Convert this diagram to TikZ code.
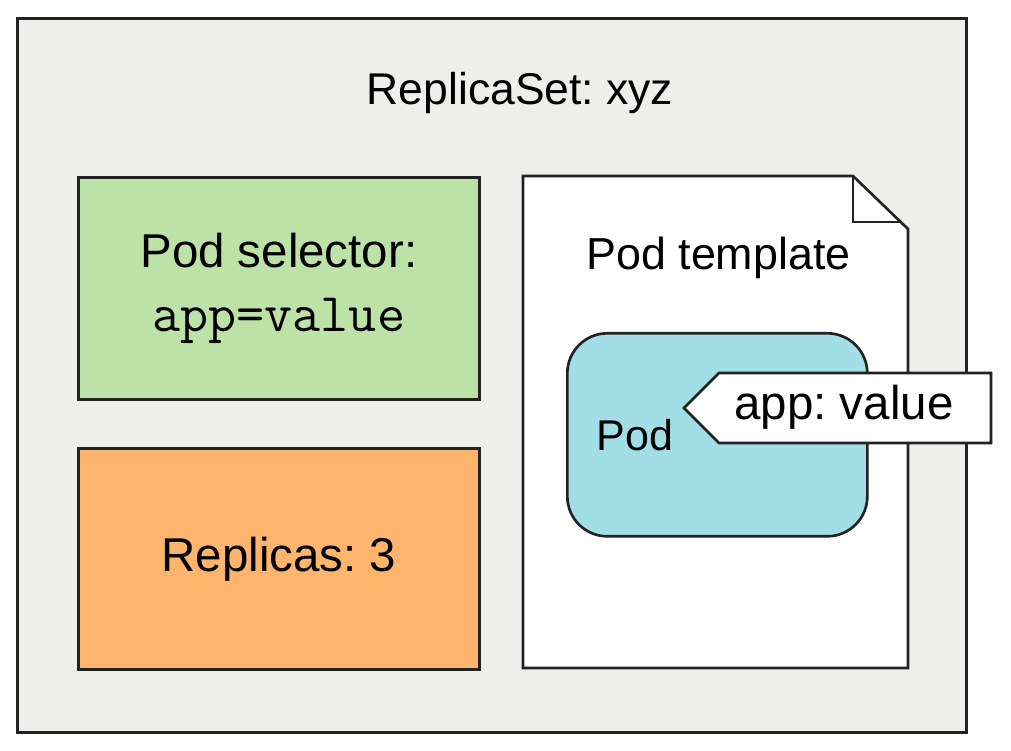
\documentclass[tikz,border=0pt]{standalone}
\usepackage{fontspec}
\setmainfont{Liberation Sans}
\usetikzlibrary{positioning,calc}

\definecolor{rsgray}{RGB}{238,238,236}
\definecolor{selgreen}{RGB}{188,226,168}
\definecolor{reporange}{RGB}{253,180,108}
\definecolor{podblue}{RGB}{162,222,230}
\definecolor{edge}{RGB}{34,34,34}

\frenchspacing
\tikzset{
   box/.style={draw=edge, line width=1.5pt, inner sep=0pt},
   txt/.style={font=\fontsize{27}{36.5}\selectfont, align=center, text=black},
}

\begin{document}
\begin{tikzpicture}
      \useasboundingbox (0,0) rectangle (20.22,-15.02);

      % replicaset frame
      \node[box, fill=rsgray, anchor=north west,
            minimum width=18.98cm, minimum height=14.28cm] (rs) at (0.32,-0.34) {};
      \node[txt, anchor=base, font=\fontsize{25.3}{30}\selectfont] (rsname) at (10.4,-2.1) {ReplicaSet: xyz};

      % selector and replicas
      \node[box, txt, fill=selgreen, anchor=north west,
            minimum width=8.02cm, minimum height=4.44cm] (sel) at (1.54,-3.52)
            {Pod selector:\\{\fontsize{31}{36}\selectfont\ttfamily app=value}};
      \node[box, txt, fill=reporange, below=0.93cm of sel,
            minimum width=8.02cm, minimum height=4.42cm] (rep) {Replicas: 3};

      % pod template sheet
      \coordinate (tnw) at (10.46,-3.52);
      \coordinate (tfold) at (17.06,-3.52);
      \coordinate (tne) at (18.16,-4.58);
      \coordinate (tse) at (18.16,-13.36);
      \coordinate (tsw) at (10.46,-13.36);
      \draw[box, fill=white] (tnw) -- (tfold) -- (tne) -- (tse) -- (tsw) -- cycle;
      \draw[box] (tfold) -- ++(0,-0.92) -- ++(0.98,0);
      \node[txt, anchor=base, font=\fontsize{25.5}{30}\selectfont] (tplname) at (14.37,-5.4) {Pod template};

      % pod
      \node[box, fill=podblue, rounded corners=0.8cm, anchor=north west,
            minimum width=6cm, minimum height=4.06cm] (pod) at (11.32,-6.64) {};
      \node[txt, anchor=base, font=\fontsize{24.5}{30}\selectfont] (podname) at (12.7,-9.02) {Pod};

      % label tag
      \coordinate (ltip) at (13.68,-8.16);
      \coordinate (lnw) at (14.38,-7.46);
      \coordinate (lne) at (19.82,-7.46);
      \coordinate (lse) at (19.82,-8.86);
      \coordinate (lsw) at (14.38,-8.86);
      \draw[box, fill=white] (ltip) -- (lnw) -- (lne) -- (lse) -- (lsw) -- cycle;
      \node[txt, anchor=base] (lbl) at (16.88,-8.4) {app: value};
\end{tikzpicture}
\end{document}
